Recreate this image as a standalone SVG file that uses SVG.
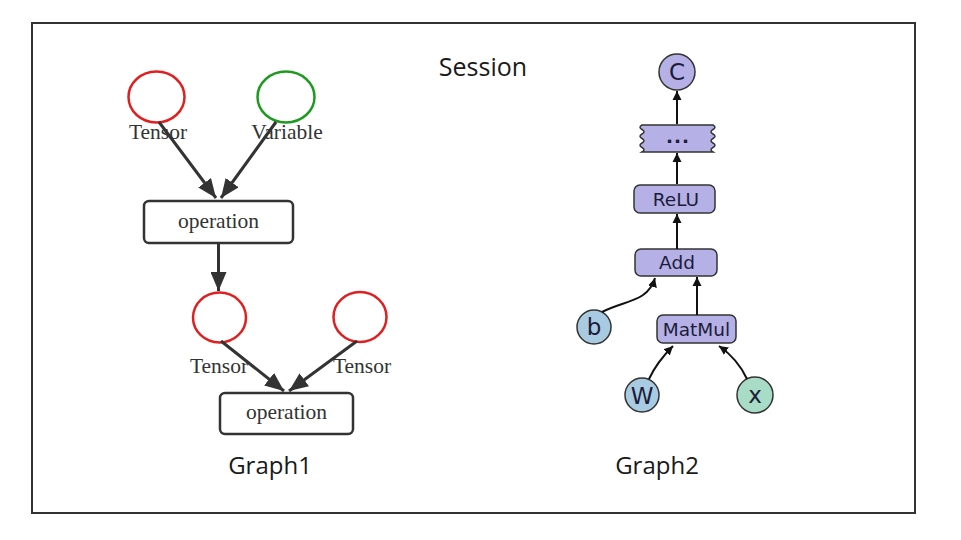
<svg xmlns="http://www.w3.org/2000/svg" width="961" height="540" viewBox="0 0 961 540">
<style>
.frame{fill:#fff;stroke:#333;stroke-width:2}
.title{font-family:"Open Sans","Noto Sans",sans-serif;fill:#1a1a1a;text-anchor:middle}
.g1lbl{font-family:"Liberation Serif",serif;font-size:21.5px;fill:#333;text-anchor:middle}
.ell{fill:none;stroke-width:2.5}
.op{fill:#fff;stroke:#333;stroke-width:2.5}
.g1edge{fill:none;stroke:#333;stroke-width:3}
.pbox{fill:#b5b0e6;stroke:#333;stroke-width:1.5}
.g2lbl{font-family:"DejaVu Sans",sans-serif;font-size:18.5px;fill:#1c1c3a;text-anchor:middle}
.g2big{font-family:"DejaVu Sans",sans-serif;font-size:23px;fill:#1c1c3a;text-anchor:middle}
.g2edge{fill:none;stroke:#111;stroke-width:2}
</style>
<defs>
<marker id="bigArrow" markerUnits="userSpaceOnUse" markerWidth="20" markerHeight="16" refX="19" refY="8" orient="auto">
<path d="M0,0 L19,8 L0,16 z" fill="#333"/>
</marker>
<marker id="smallArrow" markerUnits="userSpaceOnUse" markerWidth="10" markerHeight="10" refX="9" refY="5" orient="auto">
<path d="M0,0.5 L9,5 L0,9.5 z" fill="#111"/>
</marker>
</defs>
<rect x="0" y="0" width="961" height="540" fill="#fff"/>
<rect class="frame" x="32" y="23" width="883" height="490"/>
<text class="title" x="483" y="76" font-size="25">Session</text>
<text class="title" x="270" y="474" font-size="24">Graph1</text>
<text class="title" x="657" y="474" font-size="24">Graph2</text>

<g id="g1-tensor1">
<ellipse class="ell" cx="156.5" cy="97" rx="28" ry="25.5" stroke="#e02020"/>
<text class="g1lbl" x="158" y="139">Tensor</text>
</g>
<g id="g1-variable">
<ellipse class="ell" cx="286" cy="97" rx="28.5" ry="25.5" stroke="#1e9a1e"/>
<text class="g1lbl" x="287" y="139">Variable</text>
</g>
<g id="g1-op1">
<rect class="op" x="144" y="201" width="149" height="42" rx="5"/>
<text class="g1lbl" x="218.5" y="228">operation</text>
</g>
<g id="g1-tensor2">
<ellipse class="ell" cx="219.5" cy="317.5" rx="26.5" ry="25" stroke="#e02020"/>
<text class="g1lbl" x="219" y="373">Tensor</text>
</g>
<g id="g1-tensor3">
<ellipse class="ell" cx="360" cy="317" rx="26.5" ry="25" stroke="#e02020"/>
<text class="g1lbl" x="362" y="373">Tensor</text>
</g>
<g id="g1-op2">
<rect class="op" x="220" y="393" width="133" height="41" rx="5"/>
<text class="g1lbl" x="286.5" y="419">operation</text>
</g>

<g id="g2-C">
<circle class="pbox" cx="677" cy="72" r="18"/>
<text class="g2big" x="677" y="80">C</text>
</g>
<g id="g2-dots">
<path class="pbox" d="M642,125 L713,125 q4,2.25 0,4.5 q-4,2.25 0,4.5 q4,2.25 0,4.5 q-4,2.25 0,4.5 q4,2.25 0,4.5 q-4,2.25 0,4.5 L642,152 q4,-2.25 0,-4.5 q-4,-2.25 0,-4.5 q4,-2.25 0,-4.5 q-4,-2.25 0,-4.5 q4,-2.25 0,-4.5 q-4,-2.25 0,-4.5 z"/>
<text class="g2lbl" x="678" y="143" font-weight="bold" letter-spacing="1">...</text>
</g>
<g id="g2-relu">
<rect class="pbox" x="634" y="185" width="81" height="28" rx="6"/>
<text class="g2lbl" x="676" y="205.5">ReLU</text>
</g>
<g id="g2-add">
<rect class="pbox" x="635" y="249" width="82" height="27" rx="6"/>
<text class="g2lbl" x="677" y="269">Add</text>
</g>
<g id="g2-matmul">
<rect class="pbox" x="657" y="315" width="79" height="28" rx="6"/>
<text class="g2lbl" x="696.5" y="335.5">MatMul</text>
</g>
<g id="g2-b">
<circle cx="594" cy="327" r="17" fill="#a9cbe2" stroke="#333" stroke-width="1.5"/>
<text class="g2big" x="594" y="335">b</text>
</g>
<g id="g2-W">
<circle cx="642" cy="395" r="17" fill="#a9cbe2" stroke="#333" stroke-width="1.5"/>
<text class="g2big" x="642" y="403.5">W</text>
</g>
<g id="g2-x">
<circle cx="755" cy="395" r="18" fill="#a8dcc6" stroke="#333" stroke-width="1.5"/>
<text class="g2big" x="755" y="402.5">x</text>
</g>

<g id="connectors">
<path class="g1edge" d="M159,122 L216,198" marker-end="url(#bigArrow)"/>
<path class="g1edge" d="M276,122 L221,198" marker-end="url(#bigArrow)"/>
<path class="g1edge" d="M218.5,243 L218.5,291" marker-end="url(#bigArrow)"/>
<path class="g1edge" d="M221,341 L284,391" marker-end="url(#bigArrow)"/>
<path class="g1edge" d="M357,341 L289,391" marker-end="url(#bigArrow)"/>

<path class="g2edge" d="M677,124 L677,91" marker-end="url(#smallArrow)"/>
<path class="g2edge" d="M677,184 L677,153" marker-end="url(#smallArrow)"/>
<path class="g2edge" d="M677,249 L677,214" marker-end="url(#smallArrow)"/>
<path class="g2edge" d="M697,315 L697,277" marker-end="url(#smallArrow)"/>
<path class="g2edge" d="M602,312 C625,300 648,302 655,278" marker-end="url(#smallArrow)"/>
<path class="g2edge" d="M649,379 C655,366 663,356 673,346" marker-end="url(#smallArrow)"/>
<path class="g2edge" d="M747,379 C741,366 732,355 719,346" marker-end="url(#smallArrow)"/>
</g>
</svg>
